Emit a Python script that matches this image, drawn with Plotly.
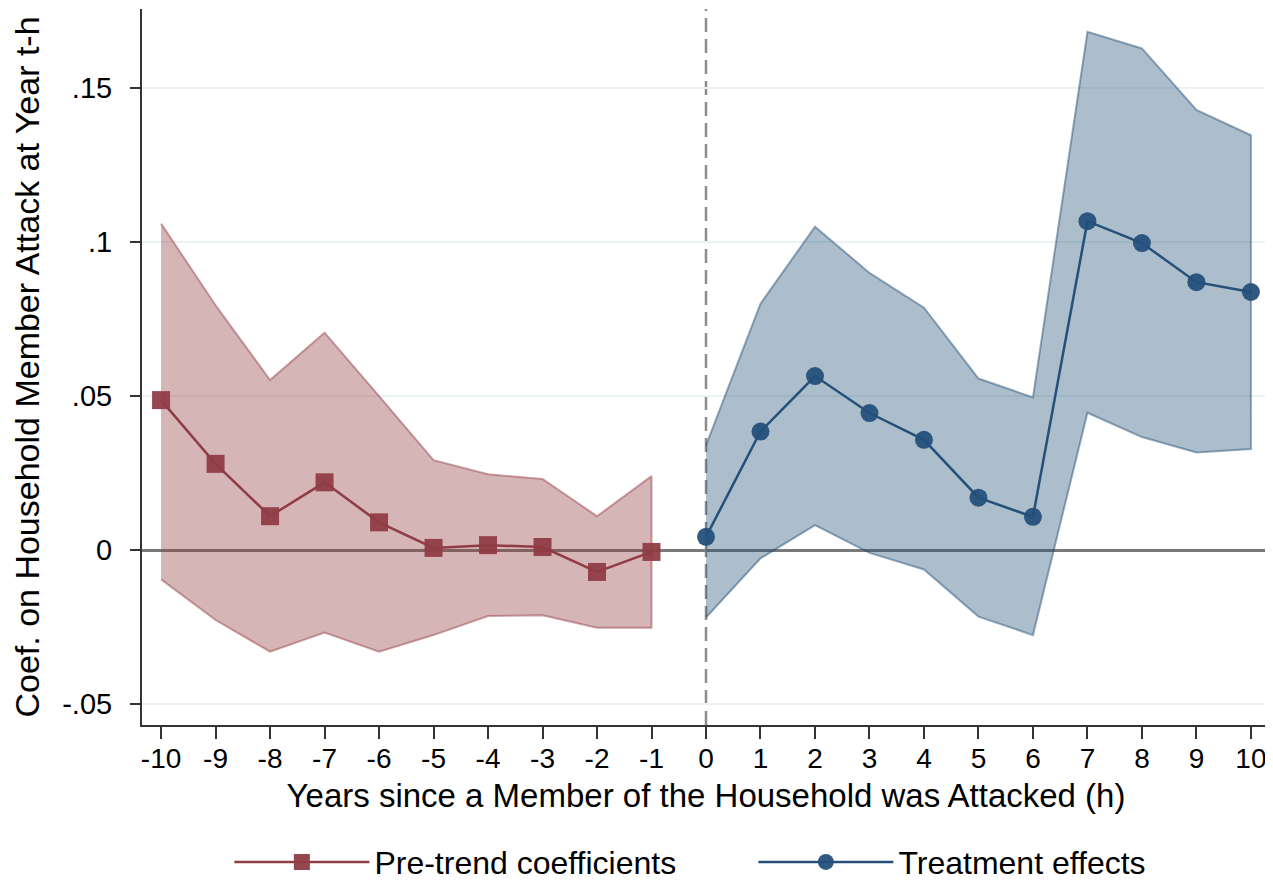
import plotly.graph_objects as go

# event-study estimates
pre_h = [-10, -9, -8, -7, -6, -5, -4, -3, -2, -1]
pre_coef = [0.0487, 0.0280, 0.0110, 0.0220, 0.0090, 0.0007, 0.0016, 0.0010, -0.0071, -0.0006]
pre_hi = [0.1060, 0.0795, 0.0552, 0.0706, 0.0500, 0.0292, 0.0246, 0.0231, 0.0110, 0.0240]
pre_lo = [-0.0095, -0.0227, -0.0330, -0.0268, -0.0330, -0.0276, -0.0214, -0.0212, -0.0252, -0.0252]

post_h = [0, 1, 2, 3, 4, 5, 6, 7, 8, 9, 10]
post_coef = [0.0043, 0.0385, 0.0565, 0.0445, 0.0358, 0.0170, 0.0108, 0.1068, 0.0997, 0.0870, 0.0838]
post_hi = [0.0340, 0.0800, 0.1050, 0.0900, 0.0787, 0.0557, 0.0496, 0.1683, 0.1629, 0.1429, 0.1347]
post_lo = [-0.0219, -0.0027, 0.0081, -0.0009, -0.0063, -0.0216, -0.0276, 0.0446, 0.0367, 0.0317, 0.0328]

x_ticks = list(range(-10, 11))
x_ticktext = [str(v) for v in x_ticks]  # plain hyphen, like the original
y_ticks = [-0.05, 0, 0.05, 0.1, 0.15]
y_ticktext = ['-.05', '0', '.05', '.1', '.15']

maroon = '#903C45'
navy = '#24507A'
font = 'Arial, Liberation Sans, sans-serif'

fig = go.Figure()

# confidence bands as closed polygons
fig.add_trace(go.Scatter(
    x=pre_h + pre_h[::-1], y=pre_hi + pre_lo[::-1],
    fill='toself', fillcolor='rgba(144,53,59,0.37)',
    line=dict(color='rgba(144,53,59,0.45)', width=2),
    mode='lines', showlegend=False, hoverinfo='skip'
))
fig.add_trace(go.Scatter(
    x=post_h + post_h[::-1], y=post_hi + post_lo[::-1],
    fill='toself', fillcolor='rgba(26,71,111,0.36)',
    line=dict(color='rgba(26,71,111,0.45)', width=2),
    mode='lines', showlegend=False, hoverinfo='skip'
))

fig.add_trace(go.Scatter(
    x=pre_h, y=pre_coef, mode='lines+markers', name='Pre-trend coefficients',
    line=dict(color=maroon, width=2.5),
    marker=dict(symbol='square', size=18, color=maroon, opacity=0.95)
))
fig.add_trace(go.Scatter(
    x=post_h, y=post_coef, mode='lines+markers', name='Treatment effects',
    line=dict(color=navy, width=2.5),
    marker=dict(symbol='circle', size=18, color=navy, opacity=0.95)
))

# dashed reference at h = 0
fig.add_shape(type='line', xref='x', yref='paper', x0=0, x1=0, y0=0, y1=1,
              line=dict(color='#8C8C8C', width=2.5, dash='14px,7px'), layer='below')

# page body has an 8px margin, so the figure is sized 8px smaller
fig.update_layout(
    width=1265, height=876,
    paper_bgcolor='white', plot_bgcolor='white',
    font=dict(family=font, size=28, color='black'),
    margin=dict(l=134, r=3, t=1, b=159),
    legend=dict(
        orientation='h', xref='container', yref='container',
        x=0.175, xanchor='left', y=0.025, yanchor='middle',
        itemwidth=135, entrywidth=374, entrywidthmode='pixels',
        font=dict(size=32), bgcolor='rgba(0,0,0,0)'
    ),
    xaxis=dict(
        range=[-10.35, 10.35], tickvals=x_ticks, ticktext=x_ticktext,
        automargin=False,
        showline=True, linecolor='#333333', linewidth=2,
        ticks='outside', ticklen=12, tickwidth=2, tickcolor='#333333',
        tickfont=dict(size=28), ticklabelstandoff=-5,
        showgrid=False, zeroline=False,
        title=dict(text='Years since a Member of the Household was Attacked (h)',
                   font=dict(size=33), standoff=11)
    ),
    yaxis=dict(
        range=[-0.0568, 0.1757], tickvals=y_ticks, ticktext=y_ticktext,
        automargin=False,
        showline=True, linecolor='#333333', linewidth=2,
        ticks='outside', ticklen=10, tickwidth=2, tickcolor='#333333',
        tickfont=dict(size=29), ticklabelstandoff=12,
        showgrid=True, gridcolor='#EAF2F3', gridwidth=2,
        zeroline=True, zerolinecolor='#7A7A7A', zerolinewidth=2.5,
        title=dict(text='Coef. on Household Member Attack at Year t-h',
                   font=dict(size=34), standoff=16)
    )
)

fig.write_html('out.html')
